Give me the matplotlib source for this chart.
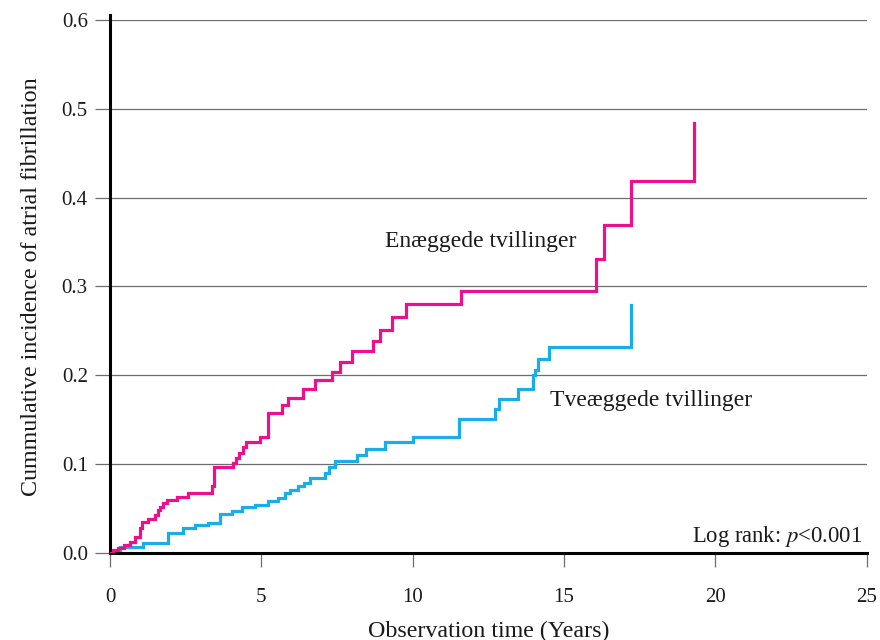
import matplotlib
matplotlib.use("Agg")
import matplotlib.pyplot as plt

# Enæggede tvillinger (monozygotic) - step times (years) and cumulative incidence
mono_t = [0, 0.1, 0.25, 0.45, 0.66, 0.83, 0.99, 1.05, 1.27, 1.5, 1.6, 1.65, 1.76,
          1.87, 2.2, 2.58, 3.37, 3.45, 4.07, 4.15, 4.25, 4.4, 4.5, 4.95, 5.23,
          5.67, 5.89, 6.38, 6.77, 7.32, 7.6, 7.98, 8.7, 8.92, 9.3, 9.78, 11.6,
          16.06, 16.33, 17.2, 19.28]
mono_y = [0, 0.003, 0.006, 0.009, 0.012, 0.018, 0.028, 0.035, 0.038, 0.043, 0.048,
          0.052, 0.056, 0.060, 0.063, 0.067, 0.075, 0.097, 0.101, 0.107, 0.112,
          0.119, 0.125, 0.131, 0.157, 0.166, 0.174, 0.184, 0.195, 0.204, 0.215,
          0.227, 0.239, 0.251, 0.265, 0.280, 0.295, 0.331, 0.369, 0.419, 0.484]

# Tveæggede tvillinger (dizygotic)
di_t = [0, 0.1, 0.33, 1.1, 1.93, 2.4, 2.81, 3.25, 3.63, 4.02, 4.35, 4.79, 5.23,
        5.56, 5.78, 5.94, 6.2, 6.4, 6.6, 7.1, 7.24, 7.43, 8.15, 8.45, 9.08, 10.0,
        11.53, 12.71, 12.85, 13.48, 13.98, 14.05, 14.14, 14.5, 17.2]
di_y = [0, 0.002, 0.0065, 0.0116, 0.022, 0.0285, 0.032, 0.034, 0.044, 0.0476,
        0.0514, 0.054, 0.058, 0.062, 0.067, 0.071, 0.075, 0.079, 0.084, 0.090,
        0.0965, 0.104, 0.110, 0.117, 0.125, 0.131, 0.151, 0.162, 0.173, 0.185,
        0.200, 0.206, 0.218, 0.232, 0.279]

x_ticks = [0, 5, 10, 15, 20, 25]
y_ticks = [0.0, 0.1, 0.2, 0.3, 0.4, 0.5, 0.6]
y_labels = ["0.0", "0.1", "0.2", "0.3", "0.4", "0.5", "0.6"]

plt.rcParams['font.family'] = ['Liberation Serif', 'DejaVu Serif']
plt.rcParams['mathtext.fontset'] = 'stix'

fig = plt.figure(figsize=(8.8, 6.4), dpi=100)
ax = fig.add_axes([0.125, 0.136, 0.86, 0.833])

# Grille horizontale
for y in y_ticks[1:]:
    ax.axhline(y, color='#6e6e6e', linewidth=0.9, zorder=1)

ax.step(mono_t, mono_y, where='post', color='#EC108C', linewidth=2.3,
        zorder=3, solid_joinstyle='miter')
ax.step(di_t, di_y, where='post', color='#1AAEE8', linewidth=2.3,
        zorder=2, solid_joinstyle='miter')

ax.text(9.1, 0.35, "Enæggede tvillinger", fontsize=17, color='#1a1a1a',
        va='center', ha='left')
ax.text(14.55, 0.172, "Tveæggede tvillinger", fontsize=17, color='#1a1a1a',
        va='center', ha='left')
ax.text(24.85, 0.019, "Log rank: $\\mathit{p}$<0.001", fontsize=16.3,
        color='#1a1a1a', va='center', ha='right')

ax.set_xlim(0, 25)
ax.set_ylim(0, 0.6)
ax.set_xticks(x_ticks)
ax.set_yticks(y_ticks)
ax.set_yticklabels(y_labels)

for side in ['top', 'right']:
    ax.spines[side].set_visible(False)
ax.spines['left'].set_linewidth(2.2)
ax.spines['bottom'].set_linewidth(2.2)
ax.spines['left'].set_bounds(0, 0.606)

ax.tick_params(axis='x', direction='out', length=10, width=0.9,
               color='#6e6e6e', pad=15, labelsize=15, labelcolor='#1a1a1a')
ax.tick_params(axis='y', direction='out', length=11, width=0.9,
               color='#6e6e6e', pad=5, labelsize=15, labelcolor='#1a1a1a')

ax.set_xlabel("Observation time (Years)", fontsize=17.3, color='#1a1a1a',
              labelpad=10)
ax.set_ylabel("Cummulative incidence of atrial fibrillation", fontsize=17.3,
              color='#1a1a1a', labelpad=14)

fig.savefig("out.png", dpi=100)
